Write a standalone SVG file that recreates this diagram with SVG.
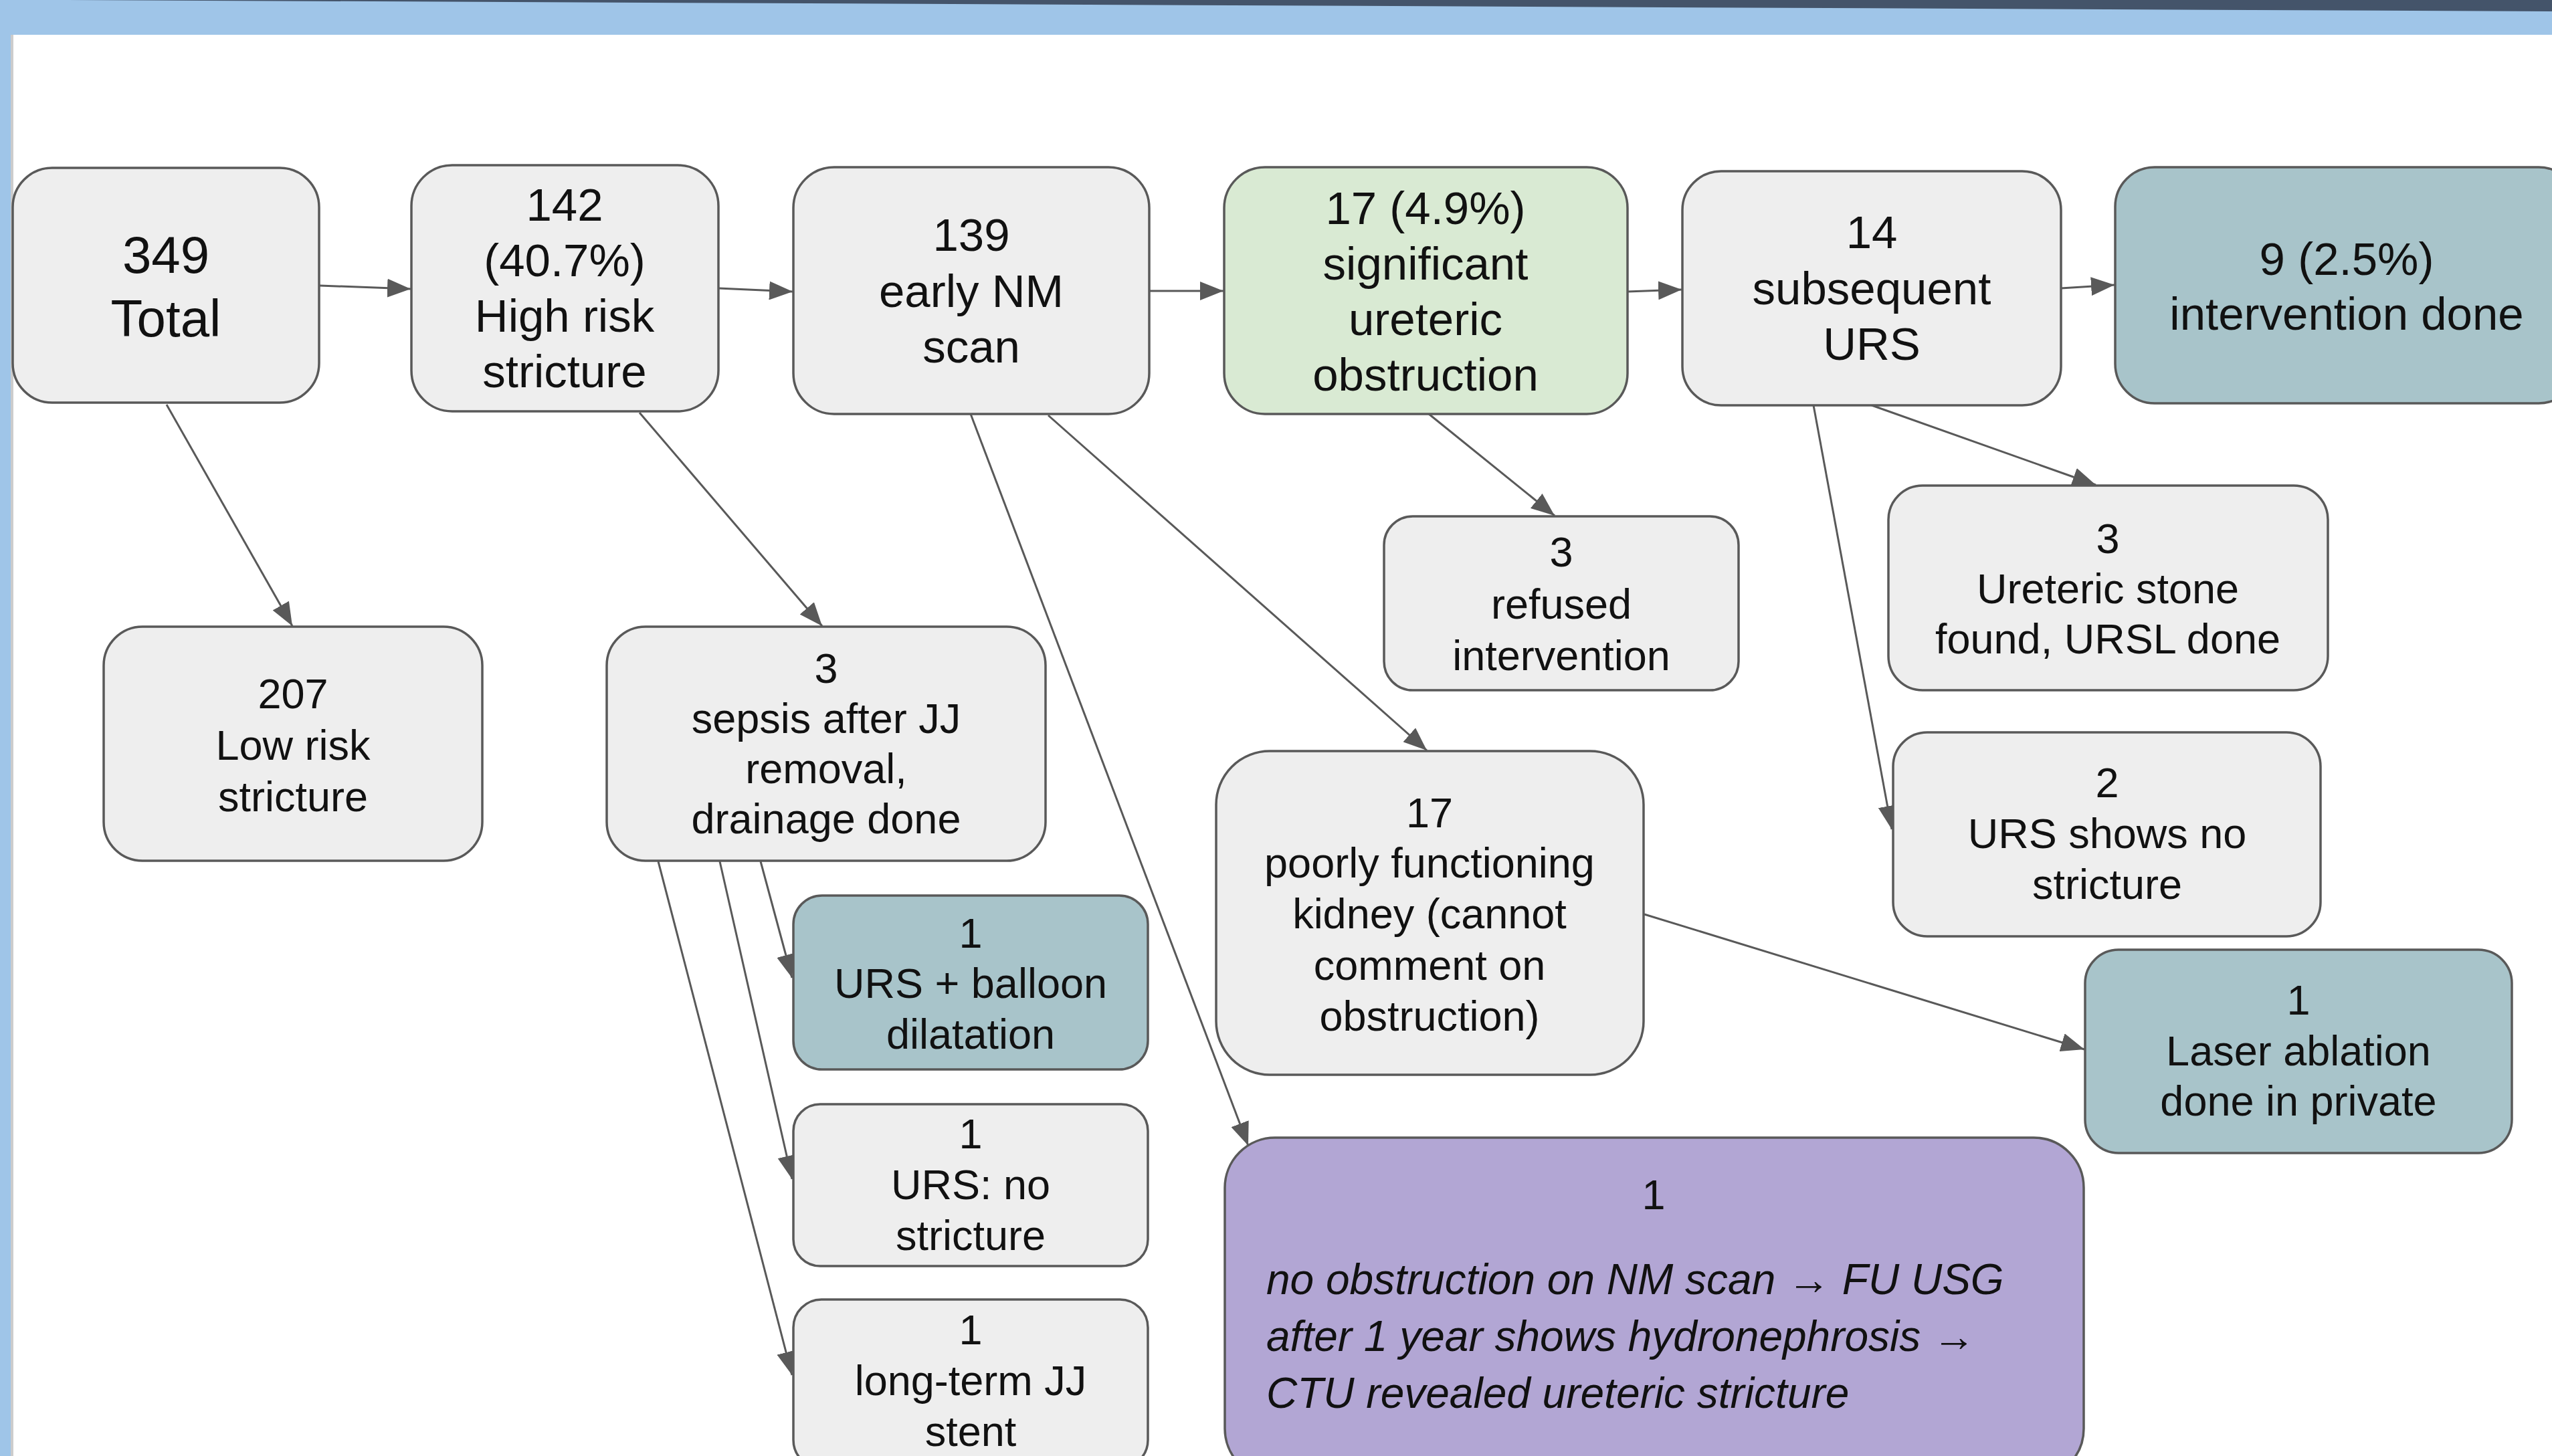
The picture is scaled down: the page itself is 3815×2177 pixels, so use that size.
<svg xmlns="http://www.w3.org/2000/svg" width="3815" height="2177" viewBox="0 0 3815 2177">
<style>
.box{stroke:#595959;stroke-width:3.5}
.g{fill:#eeeeee}
.gr{fill:#d9ead3}
.tl{fill:#a8c4ca}
.pu{fill:#b2a6d4}
text{font-family:"Liberation Sans",Arial,sans-serif;fill:#111111;text-anchor:middle}
.t1{font-size:69px}
.t0{font-size:78px}
.t2{font-size:63px}
.it{font-size:64px;font-style:italic;text-anchor:start}
.c line{stroke:#595959;stroke-width:3}
</style>
<defs>
<marker id="ah" markerUnits="userSpaceOnUse" markerWidth="36" markerHeight="28" refX="35" refY="14" orient="auto">
<path d="M0,0 L35,14 L0,28 z" fill="#595959"/>
</marker>
</defs>
<rect x="0" y="0" width="3815" height="2177" fill="#9fc5e8"/>
<rect x="16" y="52" width="3799" height="2125" fill="#ffffff"/>
<rect x="16" y="52" width="4" height="2125" fill="#cccccc"/>
<polygon points="100,0 3815,0 3815,17" fill="#44546a"/>

<g class="c">
<line x1="478" y1="427" x2="614" y2="432" marker-end="url(#ah)"/>
<line x1="1074" y1="431" x2="1185" y2="436" marker-end="url(#ah)"/>
<line x1="1718" y1="435" x2="1829" y2="435" marker-end="url(#ah)"/>
<line x1="2433" y1="436" x2="2514" y2="433" marker-end="url(#ah)"/>
<line x1="3081" y1="431" x2="3161" y2="426" marker-end="url(#ah)"/>
<line x1="249" y1="605" x2="437" y2="936" marker-end="url(#ah)"/>
<line x1="956" y1="617" x2="1229" y2="936" marker-end="url(#ah)"/>
<line x1="1451" y1="619" x2="1866" y2="1713" marker-end="url(#ah)"/>
<line x1="1567" y1="621" x2="2133" y2="1122" marker-end="url(#ah)"/>
<line x1="2136" y1="619" x2="2324" y2="771" marker-end="url(#ah)"/>
<line x1="2798" y1="606" x2="3133" y2="725" marker-end="url(#ah)"/>
<line x1="2711" y1="606" x2="2828" y2="1240" marker-end="url(#ah)"/>
<line x1="2458" y1="1367" x2="3116" y2="1569" marker-end="url(#ah)"/>
<line x1="1137" y1="1288" x2="1184" y2="1462" marker-end="url(#ah)"/>
<line x1="1076" y1="1288" x2="1184" y2="1763" marker-end="url(#ah)"/>
<line x1="984" y1="1288" x2="1184" y2="2056" marker-end="url(#ah)"/>
</g>

<g id="n349">
<rect class="box g" x="19" y="251" width="458" height="351" rx="59"/>
<text class="t0" x="248" y="408">349</text>
<text class="t0" x="248" y="503">Total</text>
</g>
<g id="n142">
<rect class="box g" x="615" y="247" width="459" height="368" rx="61"/>
<text class="t1" x="844" y="330">142</text>
<text class="t1" x="844" y="413">(40.7%)</text>
<text class="t1" x="844" y="496">High risk</text>
<text class="t1" x="844" y="579">stricture</text>
</g>
<g id="n139">
<rect class="box g" x="1186" y="250" width="532" height="369" rx="61"/>
<text class="t1" x="1452" y="375">139</text>
<text class="t1" x="1452" y="459">early NM</text>
<text class="t1" x="1452" y="542">scan</text>
</g>
<g id="n17sig">
<rect class="box gr" x="1830" y="250" width="603" height="369" rx="61"/>
<text class="t1" x="2131" y="335">17 (4.9%)</text>
<text class="t1" x="2131" y="418">significant</text>
<text class="t1" x="2131" y="501">ureteric</text>
<text class="t1" x="2131" y="584">obstruction</text>
</g>
<g id="n14">
<rect class="box g" x="2515" y="256" width="566" height="350" rx="58"/>
<text class="t1" x="2798" y="371">14</text>
<text class="t1" x="2798" y="455">subsequent</text>
<text class="t1" x="2798" y="538">URS</text>
</g>
<g id="n9">
<rect class="box tl" x="3162" y="250" width="692" height="353" rx="59"/>
<text class="t1" x="3508" y="411">9 (2.5%)</text>
<text class="t1" x="3508" y="493">intervention done</text>
</g>
<g id="n207">
<rect class="box g" x="155" y="937" width="566" height="350" rx="58"/>
<text class="t2" x="438" y="1059">207</text>
<text class="t2" x="438" y="1136">Low risk</text>
<text class="t2" x="438" y="1213">stricture</text>
</g>
<g id="nsepsis">
<rect class="box g" x="907" y="937" width="656" height="350" rx="58"/>
<text class="t2" x="1235" y="1021">3</text>
<text class="t2" x="1235" y="1096">sepsis after JJ</text>
<text class="t2" x="1235" y="1171">removal,</text>
<text class="t2" x="1235" y="1246">drainage done</text>
</g>
<g id="nballoon">
<rect class="box tl" x="1186" y="1339" width="530" height="260" rx="43"/>
<text class="t2" x="1451" y="1417">1</text>
<text class="t2" x="1451" y="1492">URS + balloon</text>
<text class="t2" x="1451" y="1568">dilatation</text>
</g>
<g id="nursno">
<rect class="box g" x="1186" y="1651" width="530" height="242" rx="40"/>
<text class="t2" x="1451" y="1717">1</text>
<text class="t2" x="1451" y="1793">URS: no</text>
<text class="t2" x="1451" y="1869">stricture</text>
</g>
<g id="nlongterm">
<rect class="box g" x="1186" y="1943" width="530" height="252" rx="42"/>
<text class="t2" x="1451" y="2010">1</text>
<text class="t2" x="1451" y="2086">long-term JJ</text>
<text class="t2" x="1451" y="2162">stent</text>
</g>
<g id="nrefused">
<rect class="box g" x="2069" y="772" width="530" height="260" rx="43"/>
<text class="t2" x="2334" y="847">3</text>
<text class="t2" x="2334" y="925">refused</text>
<text class="t2" x="2334" y="1002">intervention</text>
</g>
<g id="nstone">
<rect class="box g" x="2823" y="726" width="657" height="306" rx="51"/>
<text class="t2" x="3151" y="827">3</text>
<text class="t2" x="3151" y="902">Ureteric stone</text>
<text class="t2" x="3151" y="977">found, URSL done</text>
</g>
<g id="nursshows">
<rect class="box g" x="2830" y="1095" width="639" height="305" rx="51"/>
<text class="t2" x="3150" y="1192">2</text>
<text class="t2" x="3150" y="1268">URS shows no</text>
<text class="t2" x="3150" y="1344">stricture</text>
</g>
<g id="npoorly">
<rect class="box g" x="1818" y="1123" width="639" height="484" rx="80"/>
<text class="t2" x="2137" y="1237">17</text>
<text class="t2" x="2137" y="1312">poorly functioning</text>
<text class="t2" x="2137" y="1388">kidney (cannot</text>
<text class="t2" x="2137" y="1465">comment on</text>
<text class="t2" x="2137" y="1541">obstruction)</text>
</g>
<g id="nlaser">
<rect class="box tl" x="3117" y="1420" width="638" height="304" rx="50"/>
<text class="t2" x="3436" y="1517">1</text>
<text class="t2" x="3436" y="1593">Laser ablation</text>
<text class="t2" x="3436" y="1668">done in private</text>
</g>
<g id="npurple">
<rect class="box pu" x="1831" y="1701" width="1284" height="510" rx="75"/>
<text class="t2" x="2472" y="1808">1</text>
<text class="it" x="1893" y="1935">no obstruction on NM scan → FU USG</text>
<text class="it" x="1893" y="2020">after 1 year shows hydronephrosis →</text>
<text class="it" x="1893" y="2105">CTU revealed ureteric stricture</text>
</g>
</svg>
